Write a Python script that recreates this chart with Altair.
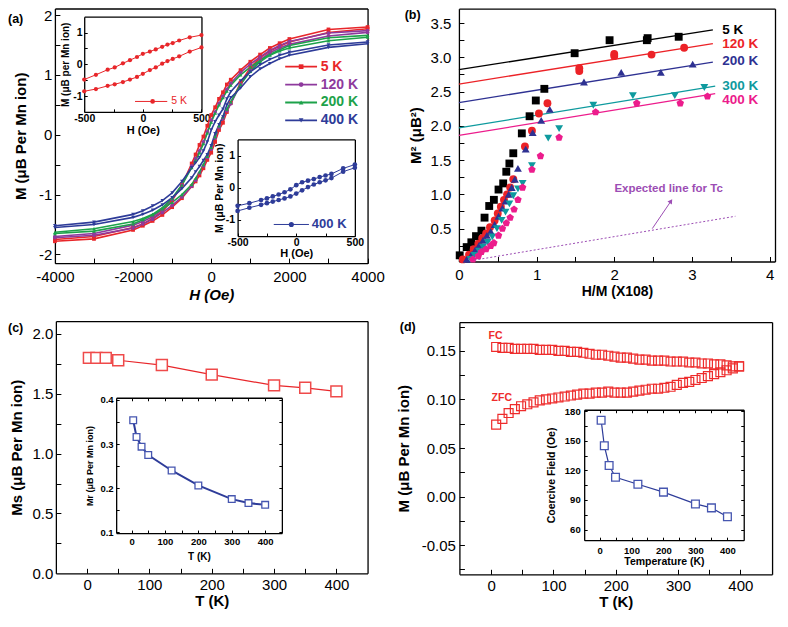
import altair as alt
import pandas as pd

W, H = 770, 605
SX = 767 / 785
SY = 604 / 625
FONT = "Liberation Sans"


def cx(rx):
    return round((rx - 2) * SX, 2)


def cy(ry):
    return round((ry - 1) * SY, 2)


# ---------------- data: panel (a) ----------------
TEMPS_A = ["5 K", "120 K", "200 K", "400 K"]
COLORS_A = ["#E8262A", "#8E3A9D", "#1DA24A", "#2E3C99"]
SHAPES_A = ["square", "circle", "triangle-up", "triangle-down"]
H_MAIN = [-4000, -3000, -2000, -1750, -1500, -1250, -1000, -750, -500, -400, -300, -200, -100, 0,
          100, 200, 300, 400, 500, 750, 1000, 1250, 1500, 1750, 2000, 3000, 4000]
M5_UP = [-1.75, -1.70, -1.55, -1.49, -1.40, -1.28, -1.10, -0.84, -0.48, -0.33, -0.17, -0.03, 0.15, 0.33,
         0.46, 0.60, 0.71, 0.84, 0.92, 1.08, 1.22, 1.34, 1.45, 1.53, 1.60, 1.76, 1.80]
M5_DN = [-1.78, -1.74, -1.59, -1.52, -1.44, -1.34, -1.21, -1.06, -0.86, -0.78, -0.68, -0.56, -0.42, -0.30,
         -0.12, 0.08, 0.20, 0.38, 0.53, 0.87, 1.12, 1.29, 1.40, 1.48, 1.55, 1.71, 1.77]
M120_UP = [-1.70, -1.65, -1.51, -1.45, -1.37, -1.25, -1.08, -0.84, -0.52, -0.40, -0.27, -0.12, 0.05, 0.24,
           0.38, 0.52, 0.64, 0.76, 0.86, 1.04, 1.18, 1.30, 1.41, 1.49, 1.56, 1.70, 1.74]
M120_DN = [-1.72, -1.68, -1.56, -1.49, -1.41, -1.30, -1.18, -1.04, -0.86, -0.76, -0.64, -0.52, -0.38, -0.24,
           -0.05, 0.12, 0.27, 0.40, 0.52, 0.84, 1.08, 1.25, 1.37, 1.45, 1.51, 1.65, 1.71]
M200_UP = [-1.63, -1.57, -1.45, -1.40, -1.33, -1.22, -1.06, -0.84, -0.55, -0.43, -0.30, -0.15, 0.03, 0.21,
           0.36, 0.50, 0.62, 0.73, 0.83, 1.00, 1.13, 1.24, 1.34, 1.42, 1.49, 1.62, 1.66]
M200_DN = [-1.65, -1.61, -1.49, -1.42, -1.34, -1.24, -1.13, -1.00, -0.83, -0.73, -0.62, -0.50, -0.36, -0.21,
           -0.03, 0.15, 0.30, 0.43, 0.55, 0.84, 1.06, 1.22, 1.33, 1.40, 1.45, 1.57, 1.63]
M400_UP = [-1.52, -1.46, -1.33, -1.27, -1.19, -1.10, -0.97, -0.78, -0.55, -0.47, -0.38, -0.27, -0.12, 0.08,
           0.22, 0.33, 0.43, 0.60, 0.72, 0.90, 1.05, 1.17, 1.26, 1.33, 1.38, 1.50, 1.55]
M400_DN = [-1.55, -1.50, -1.38, -1.33, -1.26, -1.17, -1.05, -0.90, -0.72, -0.62, -0.53, -0.43, -0.33, -0.18,
           0.02, 0.17, 0.30, 0.50, 0.62, 0.78, 0.97, 1.10, 1.19, 1.27, 1.33, 1.46, 1.52]

H_IN5 = [-500, -400, -300, -240, -170, -110, -50, 0, 60, 110, 165, 210, 255, 310, 400, 500]
IN5_UP = [-0.48, -0.33, -0.17, -0.10, 0.03, 0.13, 0.23, 0.33, 0.40, 0.47, 0.55, 0.62, 0.67, 0.75, 0.85, 0.92]
IN5_DN = [-0.85, -0.78, -0.68, -0.63, -0.56, -0.48, -0.40, -0.30, -0.18, -0.10, 0.02, 0.10, 0.17, 0.25, 0.40, 0.53]

H_IN400 = [-500, -400, -300, -250, -200, -150, -100, -50, 0, 50, 100, 150, 200, 250, 300, 400, 500]
IN400_UP = [-0.56, -0.48, -0.38, -0.33, -0.27, -0.21, -0.14, -0.05, 0.08, 0.17, 0.22, 0.27, 0.33, 0.38, 0.43, 0.60, 0.72]
IN400_DN = [-0.72, -0.62, -0.53, -0.48, -0.43, -0.38, -0.33, -0.27, -0.18, -0.08, 0.02, 0.10, 0.17, 0.23, 0.30, 0.50, 0.62]

# ---------------- data: panel (b) ----------------
TEMPS_B = ["5 K", "120 K", "200 K", "300 K", "400 K"]
COLORS_B = ["#000000", "#EC2227", "#2E3192", "#0E9A9E", "#EC1C8C"]
PENTAGON = "M0,-1L0.951,-0.309L0.588,0.809L-0.588,0.809L-0.951,-0.309Z"
SHAPES_B = ["square", "circle", "triangle-up", "triangle-down", PENTAGON]
B5_X = [0.01, 0.10, 0.16, 0.22, 0.29, 0.33, 0.39, 0.45, 0.51, 0.57, 0.61, 0.65, 0.70, 0.81, 0.91, 0.99, 1.10,
        1.49, 1.94, 2.42, 2.43, 2.83]
B5_Y = [0.11, 0.23, 0.30, 0.39, 0.47, 0.66, 0.83, 0.92, 1.07, 1.16, 1.33, 1.45, 1.60, 1.89, 2.14, 2.37, 2.54,
        3.06, 3.25, 3.25, 3.28, 3.30]
B120_X = [0.05, 0.13, 0.19, 0.25, 0.30, 0.35, 0.40, 0.46, 0.50, 0.54, 0.58, 0.62, 0.66, 0.70, 0.85, 0.94, 1.03,
          1.14, 1.55, 1.55, 2.00, 2.00, 2.48, 2.90]
B120_Y = [0.05, 0.12, 0.20, 0.28, 0.36, 0.43, 0.52, 0.62, 0.72, 0.82, 0.92, 1.00, 1.10, 1.22, 1.70, 1.93, 2.18,
          2.33, 2.80, 2.84, 3.02, 3.05, 3.04, 3.14]
B200_X = [0.10, 0.16, 0.21, 0.26, 0.31, 0.36, 0.41, 0.46, 0.51, 0.56, 0.60, 0.64, 0.68, 0.72, 0.76, 0.86, 0.95,
          1.06, 1.17, 1.61, 2.09, 2.60, 3.01]
B200_Y = [0.05, 0.12, 0.19, 0.26, 0.33, 0.40, 0.46, 0.56, 0.68, 0.80, 0.90, 1.00, 1.10, 1.22, 1.38, 1.66, 1.90,
          2.08, 2.24, 2.64, 2.78, 2.78, 2.90]
B300_X = [0.15, 0.20, 0.26, 0.31, 0.37, 0.43, 0.49, 0.55, 0.60, 0.65, 0.70, 0.76, 0.82, 0.94, 1.15, 1.29, 1.73,
          2.24, 2.78, 3.16]
B300_Y = [0.05, 0.11, 0.17, 0.23, 0.30, 0.38, 0.50, 0.62, 0.74, 0.86, 0.98, 1.08, 1.16, 1.42, 1.82, 1.96, 2.30,
          2.44, 2.44, 2.56]
B400_X = [0.18, 0.25, 0.29, 0.35, 0.41, 0.45, 0.51, 0.56, 0.61, 0.66, 0.71, 0.76, 0.82, 0.94, 1.05, 1.29, 1.76,
          2.29, 2.85, 3.20]
B400_Y = [0.05, 0.10, 0.16, 0.20, 0.25, 0.29, 0.40, 0.50, 0.58, 0.66, 0.78, 0.92, 1.10, 1.36, 1.56, 1.83, 2.20,
          2.33, 2.33, 2.43]
FIT_X0 = [0, 0, 0, 0, 0]
FIT_X1 = [3.27, 3.27, 3.27, 3.30, 3.30]
FIT_Y0 = [2.82, 2.61, 2.34, 1.97, 1.86]
FIT_Y1 = [3.40, 3.20, 2.93, 2.58, 2.47]
B_LABEL_X = 3.39
B_LABEL_Y = [3.40, 3.20, 2.94, 2.58, 2.38]
EXP_X = [0.20, 3.56]
EXP_Y = [0.04, 0.68]
ARR_X = [2.49, 2.73]
ARR_Y = [0.50, 0.90]
EXP_TEXT = "Expected line for Tc"
EXP_TEXT_X = 2.70
EXP_TEXT_Y = 1.08
PURPLE = "#9C4DB4"

# ---------------- data: panel (c) ----------------
T_MS = [3, 15, 30, 50, 120, 200, 300, 350, 400]
MS = [1.80, 1.80, 1.80, 1.78, 1.74, 1.66, 1.57, 1.55, 1.52]
T_MR = [5, 15, 30, 50, 120, 200, 300, 350, 400]
MR = [0.354, 0.316, 0.294, 0.275, 0.240, 0.206, 0.175, 0.166, 0.162]

# ---------------- data: panel (d) ----------------
T_FC = [8, 18, 28, 38, 48, 58, 68, 78, 88, 98, 108, 118, 128, 138, 148, 158, 168, 178, 188, 198,
        208, 218, 228, 238, 248, 258, 268, 278, 288, 298, 308, 318, 328, 338, 348, 358, 368, 378, 388, 398]
FC = [0.154, 0.153, 0.153, 0.152, 0.152, 0.152, 0.152, 0.151, 0.151, 0.151,
      0.150, 0.150, 0.149, 0.149, 0.148, 0.147, 0.146, 0.146, 0.145, 0.144,
      0.143, 0.143, 0.142, 0.141, 0.141, 0.140, 0.140, 0.140, 0.139, 0.139,
      0.139, 0.138, 0.138, 0.137, 0.137, 0.136, 0.136, 0.135, 0.134, 0.134]
ZFC = [0.074, 0.080, 0.086, 0.090, 0.093, 0.095, 0.097, 0.099, 0.100, 0.101,
       0.102, 0.103, 0.104, 0.105, 0.106, 0.106, 0.107, 0.107, 0.108, 0.107,
       0.107, 0.107, 0.108, 0.109, 0.110, 0.111, 0.111, 0.112, 0.113, 0.115,
       0.117, 0.118, 0.120, 0.122, 0.124, 0.126, 0.128, 0.130, 0.132, 0.134]
FCZ_LABELS = ["FC", "ZFC"]
FCZ_LABEL_T = [7, 17]
FCZ_LABEL_M = [0.165, 0.101]
T_HC = [5, 15, 30, 50, 120, 200, 300, 350, 400]
HC = [171, 145, 125, 113, 106, 98, 86, 82, 73]

RED = "#E8262A"
BLUE = "#2E3C99"
BLUE_SQ = "#4656B0"


# ---------------- geometry helpers ----------------
def panel(xl, xr, yt, yb, xd, yd):
    return dict(xl=cx(xl), xr=cx(xr), yt=cy(yt), yb=cy(yb), xd=xd, yd=yd)


PA = panel(50, 370, 1.5, 265, [-4000, 4000], [-2.145, 2.11])
PA1 = panel(80, 200, 10, 108.5, [-500, 500], [-1.5, 1.5])
PA2 = panel(237, 357, 137, 237, [-500, 500], [-1.5, 1.5])
PB = panel(463.5, 787, 1.7, 263.3, [0, 4.07], [0.02, 3.71])
PC = panel(51, 370, 325, 586, [-50, 450], [0, 2.107])
PC1 = panel(112.7, 282.3, 404.3, 544.3, [-46, 450], [0.098, 0.405])
PD = panel(464, 784, 326, 587, [-51, 451], [-0.080, 0.1796])
PD1 = panel(591.7, 755, 416.7, 551.7, [-48, 451], [49.2, 181.6])


def sxs(p):
    return alt.Scale(domain=p["xd"], range=[p["xl"], p["xr"]], nice=False, zero=False)


def sys_(p):
    return alt.Scale(domain=p["yd"], range=[p["yb"], p["yt"]], nice=False, zero=False)


def X(p, f):
    return alt.X(f + ":Q", scale=sxs(p), axis=None)


def Y(p, f):
    return alt.Y(f + ":Q", scale=sys_(p), axis=None)


def lab_expr(fmt):
    return "(datum.value < 0 ? '-' : '') + format(abs(datum.value), '" + fmt + "')"


def frame(p, xlab, xtk, ylab, ytk, xfmt, yfmt, xtitle, ytitle, lfs, lfw, xtfs, ytfs, tlen,
          xlp, ylp, xtp, ytp, xtstyle="normal", ticks_far=False, dw=1.3):
    d = pd.DataFrame({"x": [(p["xd"][0] + p["xd"][1]) / 2], "y": [(p["yd"][0] + p["yd"][1]) / 2]})
    base = alt.Chart(d).mark_point(opacity=0)
    common = dict(ticks=False, tickSize=0, domain=False, grid=False, labelFont=FONT, labelFontSize=lfs,
                  labelFontWeight=lfw, labelColor="black", labelFlush=False, labelOverlap=False,
                  titleFont=FONT, titleFontWeight="bold", titleColor="black")
    lab = base.encode(
        x=alt.X("x:Q", scale=sxs(p), axis=alt.Axis(
            orient="bottom", offset=p["yb"] - H, values=xlab, labelExpr=lab_expr(xfmt), labelPadding=xlp,
            title=xtitle, titleFontSize=xtfs, titleFontStyle=xtstyle, titlePadding=xtp, **common)),
        y=alt.Y("y:Q", scale=sys_(p), axis=alt.Axis(
            orient="left", offset=-p["xl"], values=ylab, labelExpr=lab_expr(yfmt), labelPadding=ylp,
            title=ytitle, titleFontSize=ytfs, titlePadding=ytp, **common)),
    )
    tk = dict(labels=False, title="", grid=False, tickSize=tlen, tickColor="black", tickWidth=1,
              domain=True, domainColor="black", domainWidth=dw)
    tk2 = dict(tk)
    tk2["ticks"] = ticks_far
    ta = base.encode(
        x=alt.X("x:Q", scale=sxs(p), axis=alt.Axis(orient="top", offset=-p["yb"], values=xtk, **tk)),
        y=alt.Y("y:Q", scale=sys_(p), axis=alt.Axis(orient="right", offset=p["xl"] - W, values=ytk, **tk)),
    )
    tb = base.encode(
        x=alt.X("x:Q", scale=sxs(p), axis=alt.Axis(orient="bottom", offset=p["yt"] - H, values=xtk, **tk2)),
        y=alt.Y("y:Q", scale=sys_(p), axis=alt.Axis(orient="left", offset=-p["xr"], values=ytk, **tk2)),
    )
    return [lab, ta, tb]


DUMMY = pd.DataFrame({"v": [0]})
layers = []

# ---------------- panel (a) ----------------
recs = []
for t, c, up, dn in zip(TEMPS_A, COLORS_A, [M5_UP, M120_UP, M200_UP, M400_UP],
                        [M5_DN, M120_DN, M200_DN, M400_DN]):
    for h, m in zip(H_MAIN, up):
        recs.append({"H": h, "M": m, "temp": t, "col": c, "key": t + " up"})
    for h, m in zip(H_MAIN, dn):
        recs.append({"H": h, "M": m, "temp": t, "col": c, "key": t + " dn"})
df_a = pd.DataFrame(recs)

layers += frame(PA, [-4000, -2000, 0, 2000, 4000], [-4000, -3000, -2000, -1000, 0, 1000, 2000, 3000, 4000],
                [-2, -1, 0, 1, 2], [-2, -1.5, -1, -0.5, 0, 0.5, 1, 1.5, 2], "d", "d",
                "H (Oe)", "M (\u03bcB Per Mn ion)", 15, "normal", 15, 15, 5, 6, 3, 3, 10, xtstyle="italic")
layers.append(alt.Chart(df_a).mark_line(strokeWidth=1.6).encode(
    x=X(PA, "H"), y=Y(PA, "M"), color=alt.Color("col:N", scale=None), detail="key:N", order="H:Q"))
layers.append(alt.Chart(df_a).mark_point(filled=True, size=14, opacity=1).encode(
    x=X(PA, "H"), y=Y(PA, "M"), color=alt.Color("col:N", scale=None),
    shape=alt.Shape("temp:N", scale=alt.Scale(domain=TEMPS_A, range=SHAPES_A), legend=None)))

leg_a = pd.DataFrame({"label": TEMPS_A, "col": COLORS_A, "row": [0, 1, 2, 3]})
leg_y = alt.Y("row:Q", scale=alt.Scale(domain=[0, 3], range=[cy(61.7), cy(117.3)], nice=False, zero=False), axis=None)
layers.append(alt.Chart(leg_a).mark_rule(strokeWidth=1.8).encode(
    x=alt.value(cx(285.7)), x2=alt.value(cx(318.3)), y=leg_y, color=alt.Color("col:N", scale=None)))
layers.append(alt.Chart(leg_a).mark_point(filled=True, size=22, opacity=1).encode(
    x=alt.value(cx(302)), y=leg_y, color=alt.Color("col:N", scale=None),
    shape=alt.Shape("label:N", scale=alt.Scale(domain=TEMPS_A, range=SHAPES_A), legend=None)))
layers.append(alt.Chart(leg_a).mark_text(align="left", baseline="middle", font=FONT, fontSize=14,
                                         fontWeight="bold").encode(
    x=alt.value(cx(322)), y=leg_y, text="label:N", color=alt.Color("col:N", scale=None)))

# inset a1 (5 K)
df_a1 = pd.DataFrame({"H": H_IN5 + H_IN5, "M": IN5_UP + IN5_DN,
                      "key": ["up"] * len(H_IN5) + ["dn"] * len(H_IN5)})
layers += frame(PA1, [-500, 0, 500], [-500, -250, 0, 250, 500], [-1, 0, 1], [-1, -0.5, 0, 0.5, 1], "d", "d",
                "H (Oe)", "M (\u03bcB per Mn ion)", 10.5, "bold", 11, 10, 3, 2, 2, 0, 2)
layers.append(alt.Chart(df_a1).mark_line(color=COLORS_A[0], strokeWidth=1).encode(
    x=X(PA1, "H"), y=Y(PA1, "M"), detail="key:N", order="H:Q"))
layers.append(alt.Chart(df_a1).mark_circle(color=COLORS_A[0], size=18, opacity=1).encode(
    x=X(PA1, "H"), y=Y(PA1, "M")))
layers.append(alt.Chart(DUMMY).mark_rule(color=COLORS_A[0], strokeWidth=1).encode(
    x=alt.value(cx(132)), x2=alt.value(cx(165)), y=alt.value(cy(97.7))))
layers.append(alt.Chart(DUMMY).mark_circle(color=COLORS_A[0], size=22, opacity=1).encode(
    x=alt.value(cx(150)), y=alt.value(cy(97.7))))
layers.append(alt.Chart(DUMMY).mark_text(text=TEMPS_A[0], color=COLORS_A[0], font=FONT, fontSize=10.5,
                                         align="left", baseline="middle").encode(
    x=alt.value(cx(169)), y=alt.value(cy(97.7))))

# inset a2 (400 K)
df_a2 = pd.DataFrame({"H": H_IN400 + H_IN400, "M": IN400_UP + IN400_DN,
                      "key": ["up"] * len(H_IN400) + ["dn"] * len(H_IN400)})
layers += frame(PA2, [-500, 0, 500], [-500, -250, 0, 250, 500], [-1, 0, 1], [-1, -0.5, 0, 0.5, 1], "d", "d",
                "H (Oe)", "M (\u03bcB Per Mn ion)", 10.5, "bold", 11, 10.5, 3, 1, 3, 0, 1)
layers.append(alt.Chart(df_a2).mark_line(color=COLORS_A[3], strokeWidth=1).encode(
    x=X(PA2, "H"), y=Y(PA2, "M"), detail="key:N", order="H:Q"))
layers.append(alt.Chart(df_a2).mark_circle(color=COLORS_A[3], size=22, opacity=1).encode(
    x=X(PA2, "H"), y=Y(PA2, "M")))
layers.append(alt.Chart(DUMMY).mark_rule(color=COLORS_A[3], strokeWidth=1).encode(
    x=alt.value(cx(274)), x2=alt.value(cx(310)), y=alt.value(cy(225))))
layers.append(alt.Chart(DUMMY).mark_circle(color=COLORS_A[3], size=26, opacity=1).encode(
    x=alt.value(cx(292)), y=alt.value(cy(225))))
layers.append(alt.Chart(DUMMY).mark_text(text=TEMPS_A[3], color=COLORS_A[3], font=FONT, fontSize=13,
                                         fontWeight="bold", align="left", baseline="middle").encode(
    x=alt.value(cx(313)), y=alt.value(cy(225))))

# ---------------- panel (b) ----------------
recs = []
for t, c, xs_, ys_ in zip(TEMPS_B, COLORS_B, [B5_X, B120_X, B200_X, B300_X, B400_X],
                          [B5_Y, B120_Y, B200_Y, B300_Y, B400_Y]):
    for a, b in zip(xs_, ys_):
        recs.append({"x": a, "y": b, "temp": t, "col": c})
df_b = pd.DataFrame(recs)
recs = []
for t, c, x0, x1, y0, y1 in zip(TEMPS_B, COLORS_B, FIT_X0, FIT_X1, FIT_Y0, FIT_Y1):
    recs.append({"x": x0, "y": y0, "temp": t, "col": c})
    recs.append({"x": x1, "y": y1, "temp": t, "col": c})
df_fit = pd.DataFrame(recs)
df_blab = pd.DataFrame({"x": [B_LABEL_X] * len(TEMPS_B), "y": B_LABEL_Y, "label": TEMPS_B, "col": COLORS_B})

layers += frame(PB, [0, 1, 2, 3, 4], [0, 0.5, 1, 1.5, 2, 2.5, 3, 3.5, 4],
                [0.5, 1.0, 1.5, 2.0, 2.5, 3.0, 3.5],
                [0.25, 0.5, 0.75, 1.0, 1.25, 1.5, 1.75, 2.0, 2.25, 2.5, 2.75, 3.0, 3.25, 3.5],
                "d", ".1f", "H/M (X108)", "M\u00b2 (\u03bcB\u00b2)", 15, "normal", 14, 15, 5, 6, 8, 2, 7)
layers.append(alt.Chart(df_fit).mark_line(strokeWidth=1.3).encode(
    x=X(PB, "x"), y=Y(PB, "y"), color=alt.Color("col:N", scale=None), detail="temp:N"))
layers.append(alt.Chart(df_b).mark_point(filled=True, size=62, opacity=1).encode(
    x=X(PB, "x"), y=Y(PB, "y"), color=alt.Color("col:N", scale=None),
    shape=alt.Shape("temp:N", scale=alt.Scale(domain=TEMPS_B, range=SHAPES_B), legend=None)))
layers.append(alt.Chart(df_blab).mark_text(align="left", baseline="middle", font=FONT, fontSize=13.5,
                                           fontWeight="bold").encode(
    x=X(PB, "x"), y=Y(PB, "y"), text="label:N", color=alt.Color("col:N", scale=None)))
layers.append(alt.Chart(pd.DataFrame({"x": EXP_X, "y": EXP_Y})).mark_line(
    color=PURPLE, strokeWidth=1, strokeDash=[2, 2]).encode(x=X(PB, "x"), y=Y(PB, "y")))
layers.append(alt.Chart(pd.DataFrame({"x": ARR_X, "y": ARR_Y})).mark_line(
    color=PURPLE, strokeWidth=1).encode(x=X(PB, "x"), y=Y(PB, "y")))
layers.append(alt.Chart(pd.DataFrame({"x": ARR_X[-1:], "y": ARR_Y[-1:]})).mark_point(
    shape="triangle-up", filled=True, size=28, angle=34, color=PURPLE, opacity=1).encode(
    x=X(PB, "x"), y=Y(PB, "y")))
layers.append(alt.Chart(pd.DataFrame({"x": [EXP_TEXT_X], "y": [EXP_TEXT_Y], "t": [EXP_TEXT]})).mark_text(
    font=FONT, fontSize=11.5, fontWeight="bold", color=PURPLE, align="center", baseline="middle").encode(
    x=X(PB, "x"), y=Y(PB, "y"), text="t:N"))

# ---------------- panel (c) ----------------
df_c = pd.DataFrame({"T": T_MS, "M": MS})
layers += frame(PC, [0, 100, 200, 300, 400], [0, 50, 100, 150, 200, 250, 300, 350, 400],
                [0, 0.5, 1.0, 1.5, 2.0], [0.25, 0.5, 0.75, 1.0, 1.25, 1.5, 1.75, 2.0],
                "d", ".1f", "T (K)", "Ms (\u03bcB Per Mn ion)", 15, "normal", 15, 15, 5, 4, 3, 1, 8)
layers.append(alt.Chart(df_c).mark_line(color=RED, strokeWidth=1.2).encode(x=X(PC, "T"), y=Y(PC, "M")))
layers.append(alt.Chart(df_c).mark_square(size=120, fill="white", stroke="#EF4A4A", strokeWidth=1.5,
                                          opacity=1).encode(x=X(PC, "T"), y=Y(PC, "M")))
df_c1 = pd.DataFrame({"T": T_MR, "M": MR})
layers += frame(PC1, [0, 100, 200, 300, 400], [0, 50, 100, 150, 200, 250, 300, 350, 400],
                [0.1, 0.2, 0.3, 0.4], [0.1, 0.15, 0.2, 0.25, 0.3, 0.35, 0.4],
                "d", ".1f", "T (K)", "Mr (\u03bcB Per Mn ion)", 9.5, "bold", 10, 9, 3, 3, 3, 6, 5,
                ticks_far=True)
layers.append(alt.Chart(df_c1).mark_line(color=BLUE, strokeWidth=2).encode(x=X(PC1, "T"), y=Y(PC1, "M")))
layers.append(alt.Chart(df_c1).mark_square(size=45, fill="white", stroke=BLUE_SQ, strokeWidth=1.3,
                                           opacity=1).encode(x=X(PC1, "T"), y=Y(PC1, "M")))

# ---------------- panel (d) ----------------
df_d = pd.DataFrame({"T": T_FC + T_FC, "M": FC + ZFC})
layers += frame(PD, [0, 100, 200, 300, 400], [0, 50, 100, 150, 200, 250, 300, 350, 400],
                [-0.05, 0.0, 0.05, 0.10, 0.15],
                [-0.075, -0.05, -0.025, 0.0, 0.025, 0.05, 0.075, 0.1, 0.125, 0.15, 0.175],
                "d", ".2f", "T (K)", "M (\u03bcB Per Mn ion)", 15, "normal", 15, 15, 5, 4, 4, 1, 10)
layers.append(alt.Chart(df_d).mark_point(shape="square", filled=False, size=80, color="#EE2C2C",
                                         strokeWidth=1.2, opacity=1).encode(x=X(PD, "T"), y=Y(PD, "M")))
layers.append(alt.Chart(pd.DataFrame({"T": FCZ_LABEL_T, "M": FCZ_LABEL_M, "t": FCZ_LABELS})).mark_text(
    font=FONT, fontSize=10.5, fontWeight="bold", color="#EE2C2C", align="center", baseline="middle").encode(
    x=X(PD, "T"), y=Y(PD, "M"), text="t:N"))
df_d1 = pd.DataFrame({"T": T_HC, "C": HC})
layers += frame(PD1, [0, 100, 200, 300, 400], [0, 50, 100, 150, 200, 250, 300, 350, 400],
                [60, 90, 120, 150, 180], [60, 75, 90, 105, 120, 135, 150, 165, 180],
                "d", "d", "Temperature (K)", "Coercive Field (Oe)", 9.5, "bold", 10.5, 10.5, 3, 5, 4, 2, 8,
                ticks_far=True)
layers.append(alt.Chart(df_d1).mark_line(color=BLUE, strokeWidth=1.2).encode(x=X(PD1, "T"), y=Y(PD1, "C")))
layers.append(alt.Chart(df_d1).mark_square(size=60, fill="white", stroke=BLUE_SQ, strokeWidth=1.3,
                                           opacity=1).encode(x=X(PD1, "T"), y=Y(PD1, "C")))

# ---------------- panel letters ----------------
for txt, px, py in [("(a)", 2, 12), ("(b)", 408, 8), ("(c)", 2, 332), ("(d)", 403, 331)]:
    layers.append(alt.Chart(DUMMY).mark_text(text=txt, font=FONT, fontSize=12.5, fontWeight="bold",
                                             align="left", baseline="middle", color="black").encode(
        x=alt.value(cx(px)), y=alt.value(cy(py))))

chart = alt.layer(*layers).resolve_scale(
    x="independent", y="independent", color="independent", shape="independent"
).resolve_axis(x="independent", y="independent").properties(
    width=W, height=H, padding=0, autosize=alt.AutoSizeParams(type="none"), background="white"
).configure_view(strokeWidth=0)

chart.save("out.html", embed_options={"renderer": "svg", "actions": False})
